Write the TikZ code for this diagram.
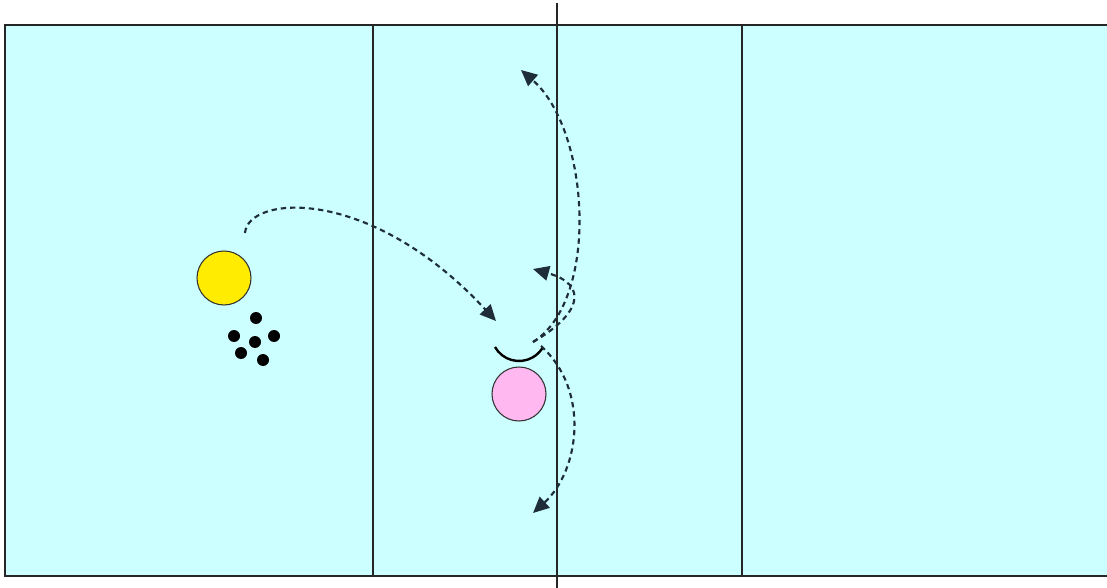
\documentclass[tikz,border=0pt]{standalone}
\usetikzlibrary{arrows.meta}
\definecolor{court}{RGB}{204,255,255}
\definecolor{pyellow}{RGB}{255,236,0}
\definecolor{ppink}{RGB}{255,184,240}
\definecolor{runcol}{RGB}{30,45,55}
\tikzset{
  courtline/.style={draw=black!85, line width=1.3pt},
  player/.style={circle, draw=black!80, line width=0.8pt, minimum size=40.5pt, inner sep=0pt},
  ball/.style={circle, fill=black, minimum size=9pt, inner sep=0pt},
  run/.style={draw=runcol, line width=1.6pt, dash pattern=on 4pt off 3pt, -{Triangle[length=12pt,width=11pt]}},
}
\begin{document}
\begin{tikzpicture}[x=0.75pt,y=-0.75pt]
\useasboundingbox (0,0) rectangle (1107,588);
\fill[white] (0,0) rectangle (1107,588);
% court
\fill[court] (5,25) rectangle (1107,576);
\draw[courtline] (1107,25) -- (5,25) -- (5,576) -- (1107,576);
\draw[courtline] (373,25) -- (373,576);
\draw[courtline] (742,25) -- (742,576);
\draw[courtline] (557,3) -- (557,588);
% players
\node[player, fill=pyellow] (Y) at (224,278) {};
\node[player, fill=ppink] (P) at (519,394) {};
\draw[line width=1.8pt, black] (495,347) arc[start angle=150.5, end angle=29.5, radius=27.6];
% balls
\foreach \n/\x/\y in {b1/256/318, b2/234/336, b3/255/342, b4/274/336, b5/241/353, b6/263/360}
  \node[ball] (\n) at (\x,\y) {};
% run endpoints
\coordinate (s1) at (245,233);
\coordinate (e1) at (496,321);
\coordinate (s2) at (533,342);
\coordinate (e2) at (521,70);
\coordinate (e3) at (533,269);
\coordinate (s4) at (541,346);
\coordinate (e4) at (533,513);
% runs
\draw[run] (s1) .. controls (248,195) and (370,185) .. (e1);
\draw[run] (s2) .. controls (600,300) and (590,130) .. (e2);
\draw[run] (s2) .. controls (580,315) and (590,285) .. (e3);
\draw[run] (s4) .. controls (590,390) and (580,470) .. (e4);
\end{tikzpicture}
\end{document}
